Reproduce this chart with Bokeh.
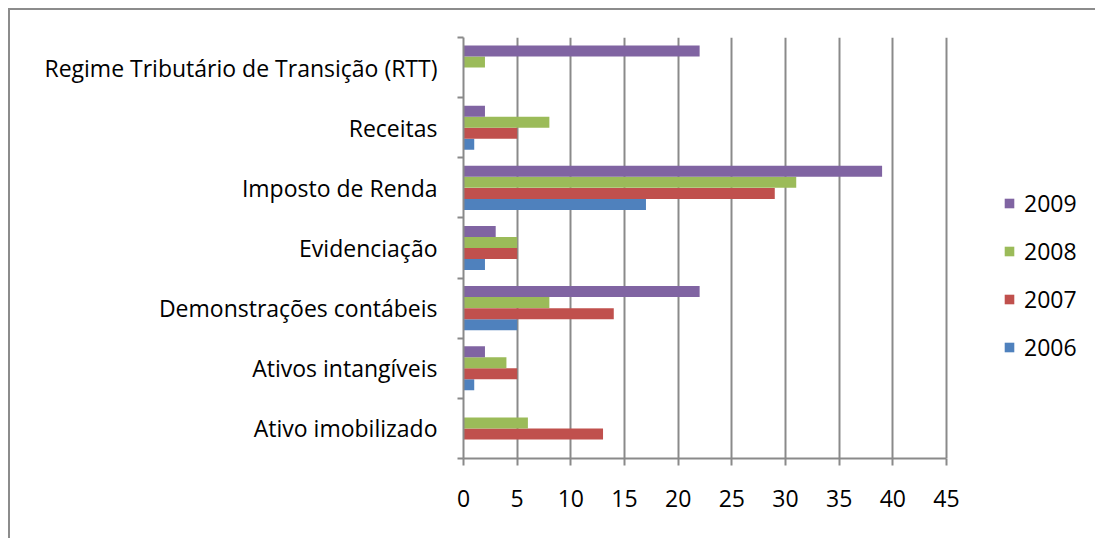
from bokeh.plotting import figure
from bokeh.models import Range1d, FixedTicker, Legend, LegendItem
from bokeh.embed import file_html
from bokeh.resources import INLINE

categories = ["Ativo imobilizado", "Ativos intangíveis", "Demonstrações contábeis",
              "Evidenciação", "Imposto de Renda", "Receitas",
              "Regime Tributário de Transição (RTT)"]
years = ["2006", "2007", "2008", "2009"]
v2006 = [0, 1, 5, 2, 17, 1, 0]
v2007 = [13, 5, 14, 5, 29, 5, 0]
v2008 = [6, 4, 8, 5, 31, 8, 2]
v2009 = [0, 2, 22, 3, 39, 2, 22]
series = [v2006, v2007, v2008, v2009]
colors = ["#4F81BD", "#C0504D", "#9BBB59", "#8064A2"]
x_ticks = [0, 5, 10, 15, 20, 25, 30, 35, 40, 45]

FONT = "Open Sans"
GRID = "#8a8a8a"

W, H = 1087, 530
LEFT, TOP = 453, 27
px_per_unit = (946 - 463) / 45.0
frame_w = W - LEFT
p = figure(width=W, height=H, output_backend="svg", toolbar_location=None,
           x_range=Range1d(0, frame_w / px_per_unit), y_range=Range1d(0, 7),
           min_border_left=LEFT, min_border_right=0, min_border_top=TOP,
           min_border_bottom=H - TOP - 421,
           styles={"margin-left": "10px", "margin-top": "10px",
                   "box-shadow": "-2px -2px 0px 0px #8c8c8c"})
p.outline_line_color = None
p.background_fill_color = "white"
p.border_fill_color = "white"

offsets = [-0.275, -0.092, 0.092, 0.275]
renderers = []
for vals, col, off in zip(series, colors, offsets):
    ys = [i + 0.5 + off for i in range(len(categories))]
    r = p.hbar(y=ys, left=0, right=vals, height=0.183, fill_color=col, line_color=None)
    renderers.append(r)

# x axis
xa = p.xaxis[0]
xa.ticker = FixedTicker(ticks=x_ticks, minor_ticks=[])
xa.bounds = (0, 45)
xa.axis_line_color = GRID
xa.axis_line_width = 2
xa.major_tick_line_color = GRID
xa.major_tick_line_width = 2
xa.major_tick_out = 7
xa.major_tick_in = 0
xa.minor_tick_line_color = None
xa.major_label_standoff = 24
xa.major_label_text_font = FONT
xa.major_label_text_font_size = "23px"
xa.major_label_text_color = "black"

# y axis
ya = p.yaxis[0]
ya.ticker = FixedTicker(ticks=[i + 0.5 for i in range(7)], minor_ticks=list(range(8)))
ya.major_label_overrides = {i + 0.5: c for i, c in enumerate(categories)}
ya.bounds = (0, 7)
ya.axis_line_color = GRID
ya.axis_line_width = 2
ya.major_tick_line_color = None
ya.major_tick_out = 0
ya.major_tick_in = 0
ya.minor_tick_line_color = GRID
ya.minor_tick_line_width = 2
ya.minor_tick_out = 6
ya.minor_tick_in = 0
ya.major_label_standoff = 20
ya.major_label_text_font = FONT
ya.major_label_text_font_size = "23px"
ya.major_label_text_color = "black"

p.xgrid.ticker = FixedTicker(ticks=x_ticks)
p.xgrid.grid_line_color = GRID
p.xgrid.grid_line_width = 2
p.ygrid.grid_line_color = None

items = [LegendItem(label=y, renderers=[r]) for y, r in zip(years, renderers)][::-1]
legend = Legend(items=items, location=(540, 95), orientation="vertical",
                padding=0, margin=0, spacing=16, glyph_width=12, glyph_height=12,
                label_standoff=9, label_text_font=FONT, label_text_font_size="23px",
                label_text_color="black", border_line_color=None,
                background_fill_alpha=0)
p.add_layout(legend)

open("out.html", "w").write(file_html(p, INLINE))
